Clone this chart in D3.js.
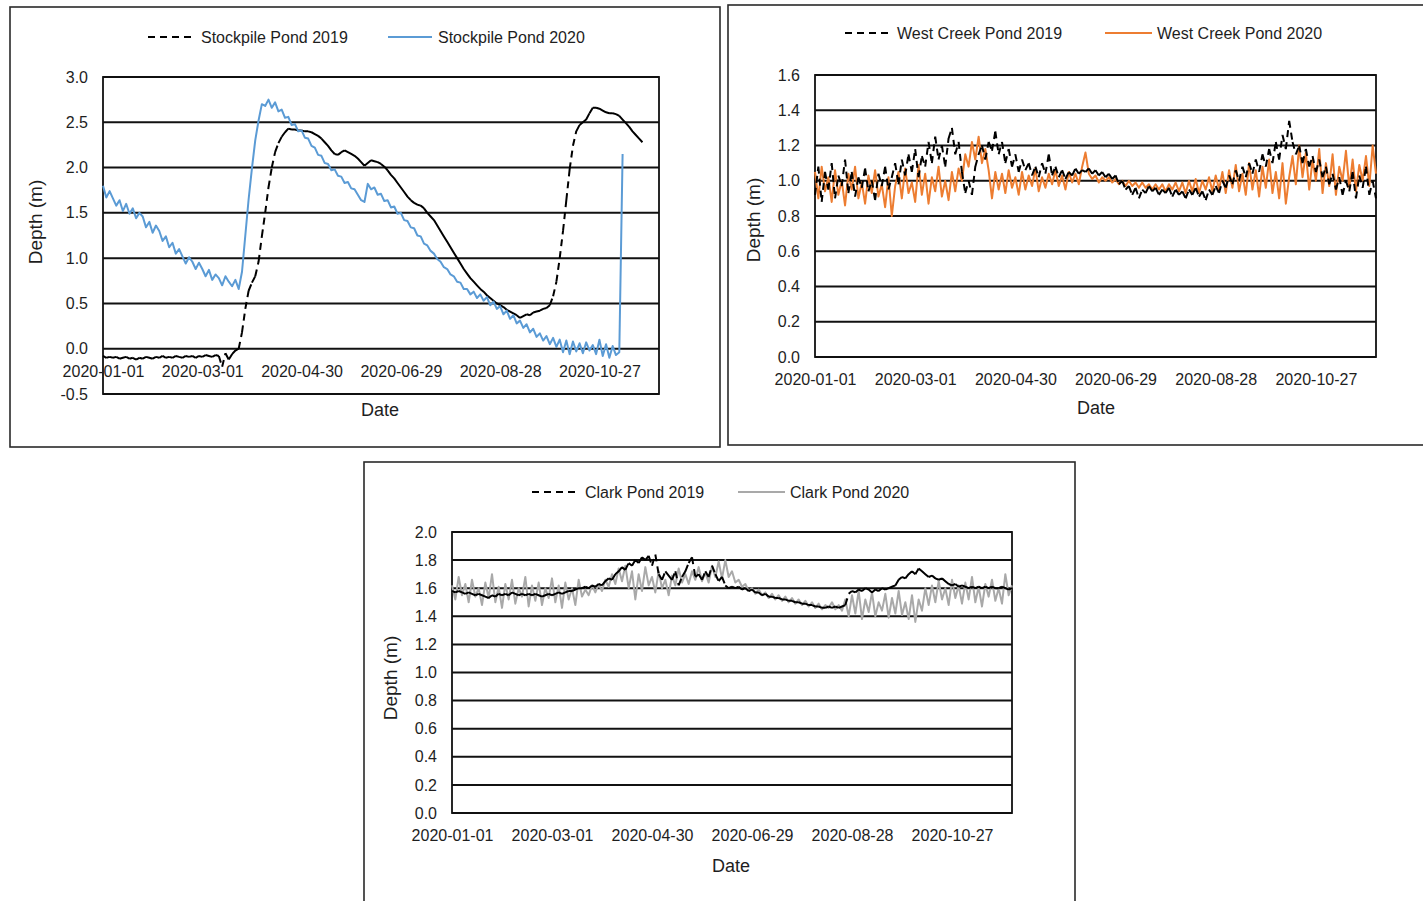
<!DOCTYPE html>
<html>
<head>
<meta charset="utf-8">
<script src="https://cdn.jsdelivr.net/npm/d3@7"></script>
<style>
  body { margin: 0; background: #fff; }
  svg { display: block; font-family: "Liberation Sans", Arial, sans-serif; }
</style>
</head>
<body>
<svg id="fig" width="1423" height="901"></svg>
<script>
// ---- data -------------------------------------------------------------
// Daily logger series, one value every 2 days starting 2020-01-01 (2019 records
// are aligned on the same calendar day for comparison).
const seriesStart = "2020-01-01";
const stepDays = 2;
const axisEnd = "2020-12-02";
const tickDates = ["2020-01-01", "2020-03-01", "2020-04-30", "2020-06-29", "2020-08-28", "2020-10-27"];

const stockpileTicks = [-0.5, 0.0, 0.5, 1.0, 1.5, 2.0, 2.5, 3.0];
const westCreekTicks = [0.0, 0.2, 0.4, 0.6, 0.8, 1.0, 1.2, 1.4, 1.6];
const clarkTicks = [0.0, 0.2, 0.4, 0.6, 0.8, 1.0, 1.2, 1.4, 1.6, 1.8, 2.0];

const stockpileNames = ["Stockpile Pond 2019", "Stockpile Pond 2020"];
const westCreekNames = ["West Creek Pond 2019", "West Creek Pond 2020"];
const clarkNames = ["Clark Pond 2019", "Clark Pond 2020"];

const stockpile2019 = [
  -0.08,-0.10,-0.09,-0.10,-0.09,-0.11,-0.10,-0.09,-0.11,-0.10,
  -0.12,-0.10,-0.11,-0.09,-0.10,-0.11,-0.09,-0.10,-0.08,-0.10,
  -0.09,-0.10,-0.08,-0.09,-0.10,-0.08,-0.09,-0.08,-0.10,-0.08,
  -0.09,-0.07,-0.08,-0.09,-0.07,-0.08,-0.20,-0.05,-0.12,-0.06,
  -0.02,0.00,0.18,0.44,0.64,0.73,0.80,0.96,1.24,1.50,
  1.78,2.00,2.17,2.27,2.34,2.39,2.43,2.42,2.42,2.41,
  2.41,2.40,2.40,2.39,2.37,2.35,2.32,2.28,2.24,2.19,
  2.15,2.14,2.17,2.19,2.17,2.15,2.13,2.10,2.06,2.02,
  2.05,2.08,2.07,2.06,2.04,2.01,1.97,1.92,1.88,1.83,
  1.78,1.73,1.68,1.64,1.61,1.59,1.58,1.55,1.50,1.46,
  1.42,1.36,1.30,1.24,1.18,1.12,1.06,1.00,0.94,0.88,
  0.83,0.78,0.74,0.70,0.66,0.63,0.59,0.56,0.53,0.50,
  0.48,0.46,0.43,0.41,0.39,0.37,0.34,0.36,0.38,0.37,
  0.40,0.41,0.42,0.44,0.45,0.48,0.58,0.74,1.00,1.30,
  1.64,1.98,2.24,2.40,2.47,2.50,2.53,2.60,2.66,2.66,
  2.65,2.63,2.61,2.60,2.60,2.59,2.57,2.53,2.49,2.45,
  2.40,2.36,2.32,2.28
];
const stockpile2020 = [
  1.80,1.67,1.74,1.66,1.58,1.64,1.52,1.60,1.49,1.55,
  1.44,1.50,1.46,1.34,1.40,1.28,1.36,1.30,1.19,1.24,
  1.12,1.17,1.05,1.10,1.02,0.94,1.01,0.96,0.88,0.95,
  0.88,0.80,0.87,0.76,0.82,0.78,0.70,0.80,0.74,0.69,
  0.76,0.66,0.85,1.25,1.65,1.99,2.30,2.52,2.70,2.68,
  2.75,2.66,2.72,2.62,2.64,2.55,2.56,2.47,2.48,2.40,
  2.41,2.33,2.32,2.24,2.22,2.14,2.13,2.05,2.04,1.97,
  1.98,1.91,1.90,1.83,1.84,1.77,1.76,1.70,1.64,1.62,
  1.82,1.76,1.78,1.70,1.71,1.63,1.64,1.56,1.57,1.49,
  1.50,1.42,1.41,1.34,1.33,1.25,1.24,1.16,1.14,1.08,
  1.05,0.99,0.96,0.90,0.88,0.82,0.80,0.74,0.73,0.66,
  0.66,0.60,0.63,0.56,0.60,0.53,0.57,0.48,0.52,0.44,
  0.47,0.38,0.42,0.33,0.37,0.28,0.31,0.23,0.27,0.18,
  0.22,0.13,0.17,0.09,0.14,0.05,0.12,0.02,0.10,-0.04,
  0.09,-0.06,0.08,-0.03,0.06,-0.05,0.07,-0.02,0.04,-0.06,
  0.10,-0.08,0.05,-0.10,0.03,-0.07,-0.04,2.15
];

const westCreek2019 = [
  0.92,1.08,0.88,1.05,0.95,1.10,0.90,1.03,0.97,1.12,
  0.93,1.05,0.91,1.02,0.96,1.07,0.94,1.00,0.89,1.04,
  0.97,1.08,0.95,1.02,1.10,0.98,1.12,1.03,1.15,1.05,
  1.18,1.02,1.14,1.08,1.22,1.10,1.25,1.12,1.20,1.08,
  1.24,1.30,1.15,1.22,1.05,0.93,1.00,0.92,1.08,1.15,
  1.20,1.12,1.22,1.17,1.28,1.15,1.22,1.10,1.18,1.08,
  1.15,1.05,1.12,1.06,1.10,1.03,1.08,1.02,1.10,1.04,
  1.15,1.03,1.08,1.02,1.06,1.01,1.05,1.03,1.07,1.04,
  1.06,1.05,1.07,1.04,1.06,1.03,1.05,1.02,1.04,1.01,
  1.03,0.98,1.00,0.95,0.97,0.92,0.96,0.90,0.95,0.93,
  0.97,0.94,0.96,0.92,0.95,0.93,0.96,0.91,0.95,0.92,
  0.94,0.90,0.95,0.92,0.96,0.91,0.94,0.89,0.95,0.92,
  0.97,0.93,1.00,0.96,1.03,0.98,1.06,1.00,1.08,1.02,
  1.10,1.04,1.12,1.05,1.15,1.08,1.18,1.10,1.22,1.12,
  1.26,1.18,1.34,1.22,1.15,1.20,1.10,1.18,1.08,1.14,
  1.05,1.12,1.02,1.08,0.98,1.04,0.95,1.02,0.92,1.00,
  0.94,1.05,0.90,1.03,0.96,1.08,0.92,1.00,0.90
];
const westCreek2020 = [
  1.05,0.90,1.08,0.94,1.02,0.88,1.06,0.92,1.00,0.86,
  1.04,0.95,1.08,0.90,0.99,0.87,1.03,0.93,1.06,0.91,
  0.98,0.85,1.02,0.80,0.97,1.05,0.90,1.07,0.93,0.99,
  0.88,1.09,0.92,1.04,0.87,1.02,0.94,1.08,0.91,1.00,
  0.89,1.05,0.94,1.07,1.00,1.15,1.08,1.22,1.12,1.25,
  1.10,1.18,1.06,0.90,1.05,0.95,1.04,0.93,1.06,0.96,
  1.02,0.92,1.05,0.95,1.03,0.97,1.07,0.94,1.02,0.96,
  1.04,0.98,1.06,0.97,1.03,0.95,1.05,0.99,1.04,0.98,
  1.08,1.16,1.04,1.01,1.03,0.99,1.02,1.00,1.02,0.99,
  1.01,0.98,1.00,0.97,1.00,0.97,0.99,0.96,0.99,0.96,
  0.98,0.95,0.98,0.95,0.98,0.94,0.98,0.95,0.99,0.94,
  0.99,0.93,1.00,0.94,1.01,0.93,1.00,0.95,1.02,0.94,
  1.03,0.95,1.05,0.93,1.06,0.96,1.09,0.94,1.04,0.92,
  1.10,0.95,1.06,0.91,1.08,0.96,1.12,0.93,1.05,0.90,
  1.10,0.87,1.02,1.14,0.98,1.20,1.02,1.16,0.95,1.12,
  1.00,1.18,0.93,1.10,0.97,1.15,0.92,1.08,1.00,1.17,
  0.96,1.12,0.94,1.09,1.00,1.14,0.97,1.20,1.04
];

const clark2019 = [
  1.58,1.57,1.58,1.57,1.56,1.57,1.56,1.55,1.56,1.55,
  1.54,1.53,1.55,1.54,1.56,1.55,1.56,1.55,1.57,1.56,
  1.55,1.56,1.55,1.56,1.55,1.56,1.55,1.54,1.55,1.56,
  1.55,1.56,1.57,1.56,1.57,1.58,1.58,1.59,1.60,1.60,
  1.61,1.60,1.62,1.61,1.63,1.62,1.65,1.67,1.66,1.70,
  1.72,1.75,1.73,1.78,1.76,1.80,1.78,1.82,1.80,1.83,
  1.76,1.84,1.70,1.66,1.72,1.69,1.66,1.72,1.62,1.68,
  1.72,1.78,1.82,1.68,1.70,1.66,1.72,1.68,1.76,1.70,
  1.65,1.68,1.62,1.60,1.61,1.60,1.61,1.59,1.60,1.58,
  1.59,1.57,1.57,1.55,1.56,1.54,1.54,1.53,1.53,1.52,
  1.52,1.51,1.51,1.50,1.50,1.49,1.49,1.48,1.48,1.47,
  1.47,1.46,1.46,1.47,1.46,1.47,1.46,1.47,1.48,1.56,
  1.58,1.57,1.59,1.58,1.60,1.59,1.57,1.59,1.58,1.60,
  1.59,1.60,1.61,1.62,1.66,1.68,1.67,1.70,1.72,1.70,
  1.74,1.72,1.70,1.68,1.69,1.67,1.66,1.67,1.65,1.63,
  1.62,1.63,1.61,1.62,1.61,1.60,1.61,1.60,1.61,1.60,
  1.61,1.60,1.61,1.60,1.60,1.61,1.60,1.59,1.60
];
const clark2020 = [
  1.62,1.52,1.68,1.55,1.63,1.50,1.66,1.54,1.60,1.48,
  1.64,1.53,1.70,1.50,1.61,1.46,1.63,1.52,1.66,1.49,
  1.60,1.54,1.68,1.47,1.62,1.51,1.64,1.48,1.60,1.53,
  1.67,1.50,1.62,1.46,1.64,1.52,1.60,1.48,1.66,1.54,
  1.59,1.55,1.62,1.57,1.63,1.58,1.66,1.61,1.70,1.63,
  1.74,1.65,1.76,1.60,1.72,1.52,1.70,1.58,1.75,1.62,
  1.68,1.57,1.72,1.60,1.66,1.55,1.69,1.62,1.74,1.64,
  1.70,1.63,1.72,1.66,1.75,1.65,1.71,1.64,1.76,1.68,
  1.79,1.67,1.80,1.68,1.72,1.64,1.66,1.61,1.63,1.58,
  1.60,1.56,1.59,1.55,1.57,1.53,1.56,1.52,1.55,1.51,
  1.54,1.50,1.53,1.49,1.52,1.48,1.51,1.47,1.50,1.46,
  1.49,1.45,1.48,1.46,1.50,1.45,1.48,1.44,1.52,1.40,
  1.55,1.42,1.58,1.38,1.52,1.43,1.57,1.40,1.50,1.44,
  1.56,1.39,1.53,1.42,1.58,1.41,1.50,1.38,1.55,1.36,
  1.52,1.44,1.60,1.48,1.62,1.50,1.65,1.52,1.60,1.48,
  1.66,1.53,1.62,1.49,1.64,1.52,1.68,1.50,1.61,1.47,
  1.63,1.54,1.66,1.51,1.60,1.49,1.70,1.55,1.62
];

// ---- layout ------------------------------------------------------------
const TEXT = "#1e1e1e";
const DASH = "7,5";

const panels = [
  {
    frame: { x: 10, y: 7, w: 710, h: 440 },
    plot: { left: 103, top: 77, right: 659, bottom: 394 },
    yDomain: [-0.5, 3.0], yTicks: stockpileTicks,
    names: stockpileNames, colors: ["#000000", "#5b9bd5"],
    data: [stockpile2019, stockpile2020], topSeries: 1,
    legend: { y: 37, items: [[148, 195, 201], [388, 432, 438]] },
    yTitle: { x: 35, y: 222 }, xTitle: { x: 380, y: 410 }
  },
  {
    frame: { x: 728, y: 5, w: 710, h: 440 },
    plot: { left: 815, top: 75, right: 1376, bottom: 357 },
    yDomain: [0, 1.6], yTicks: westCreekTicks,
    names: westCreekNames, colors: ["#000000", "#ed7d31"],
    data: [westCreek2019, westCreek2020], topSeries: 0,
    legend: { y: 33, items: [[845, 891, 897], [1105, 1152, 1157]] },
    yTitle: { x: 753, y: 220 }, xTitle: { x: 1096, y: 408 }
  },
  {
    frame: { x: 364, y: 462, w: 711, h: 450 },
    plot: { left: 452, top: 532, right: 1012, bottom: 813 },
    yDomain: [0, 2.0], yTicks: clarkTicks,
    names: clarkNames, colors: ["#000000", "#a9a9a9"],
    data: [clark2019, clark2020], topSeries: 0,
    legend: { y: 492, items: [[532, 578, 585], [738, 785, 790]] },
    yTitle: { x: 390, y: 678 }, xTitle: { x: 731, y: 866 }
  }
];

// ---- drawing -----------------------------------------------------------
const parse = d3.timeParse("%Y-%m-%d");
const fmt = d3.timeFormat("%Y-%m-%d");
const numFmt = v => d3.format(".1f")(v).replace("\u2212", "-");
const t0 = parse(seriesStart);
const svg = d3.select("#fig");

function dated(values) {
  return values.map((v, i) => ({ date: d3.timeDay.offset(t0, i * stepDays), v }));
}

panels.forEach(p => {
  const g = svg.append("g");

  g.append("rect")
    .attr("x", p.frame.x).attr("y", p.frame.y)
    .attr("width", p.frame.w).attr("height", p.frame.h)
    .attr("fill", "#fff").attr("stroke", "#2a2a2a").attr("stroke-width", 1.6);

  const x = d3.scaleTime()
    .domain([parse(seriesStart), parse(axisEnd)])
    .range([p.plot.left, p.plot.right]);
  const y = d3.scaleLinear()
    .domain(p.yDomain)
    .range([p.plot.bottom, p.plot.top]);

  // horizontal gridlines
  g.append("g").selectAll("line").data(p.yTicks).join("line")
    .attr("x1", p.plot.left).attr("x2", p.plot.right)
    .attr("y1", d => y(d)).attr("y2", d => y(d))
    .attr("stroke", "#111").attr("stroke-width", 2);

  // plot border
  g.append("rect")
    .attr("x", p.plot.left).attr("y", p.plot.top)
    .attr("width", p.plot.right - p.plot.left)
    .attr("height", p.plot.bottom - p.plot.top)
    .attr("fill", "none").attr("stroke", "#111").attr("stroke-width", 1.8);

  // y axis labels
  const ya = g.append("g")
    .attr("transform", `translate(${p.plot.left},0)`)
    .call(d3.axisLeft(y).tickValues(p.yTicks).tickFormat(numFmt).tickSize(0).tickPadding(15));
  ya.select(".domain").remove();
  ya.attr("font-family", null).attr("font-size", null);
  ya.selectAll("text").attr("fill", TEXT).style("font-size", "16px");

  // x axis labels, crossing at depth 0
  const xa = g.append("g")
    .attr("transform", `translate(0,${y(0)})`)
    .call(d3.axisBottom(x).tickValues(tickDates.map(parse)).tickFormat(fmt).tickSize(0).tickPadding(17));
  xa.select(".domain").remove();
  xa.attr("font-family", null).attr("font-size", null);
  xa.selectAll("text").attr("fill", TEXT).style("font-size", "16px");

  // series
  const line = d3.line().x(d => x(d.date)).y(d => y(d.v));
  const drawSeries = idx => {
    const pts = dated(p.data[idx]);
    if (idx === 0) {
      // dashed record: pattern restarts on every segment
      const segs = d3.pairs(pts).map(pr => line(pr)).join("");
      g.append("path").attr("d", segs)
        .attr("fill", "none").attr("stroke", p.colors[0])
        .attr("stroke-width", 2).attr("stroke-dasharray", DASH);
    } else {
      g.append("path").attr("d", line(pts))
        .attr("fill", "none").attr("stroke", p.colors[1])
        .attr("stroke-width", 2).attr("stroke-linejoin", "round");
    }
  };
  const order = p.topSeries === 1 ? [0, 1] : [1, 0];
  order.forEach(drawSeries);

  // legend
  p.legend.items.forEach((it, i) => {
    g.append("line")
      .attr("x1", it[0]).attr("x2", it[1])
      .attr("y1", p.legend.y).attr("y2", p.legend.y)
      .attr("stroke", p.colors[i]).attr("stroke-width", 2)
      .attr("stroke-dasharray", i === 0 ? DASH : null);
    g.append("text")
      .attr("x", it[2]).attr("y", p.legend.y)
      .attr("dy", "0.35em")
      .attr("fill", TEXT).style("font-size", "16px")
      .text(p.names[i]);
  });

  // axis titles
  g.append("text")
    .attr("transform", `translate(${p.yTitle.x},${p.yTitle.y}) rotate(-90)`)
    .attr("text-anchor", "middle").attr("dy", "0.35em")
    .attr("fill", TEXT).style("font-size", "19px")
    .text("Depth (m)");
  g.append("text")
    .attr("x", p.xTitle.x).attr("y", p.xTitle.y)
    .attr("text-anchor", "middle").attr("dy", "0.35em")
    .attr("fill", TEXT).style("font-size", "18px")
    .text("Date");
});
</script>
</body>
</html>
